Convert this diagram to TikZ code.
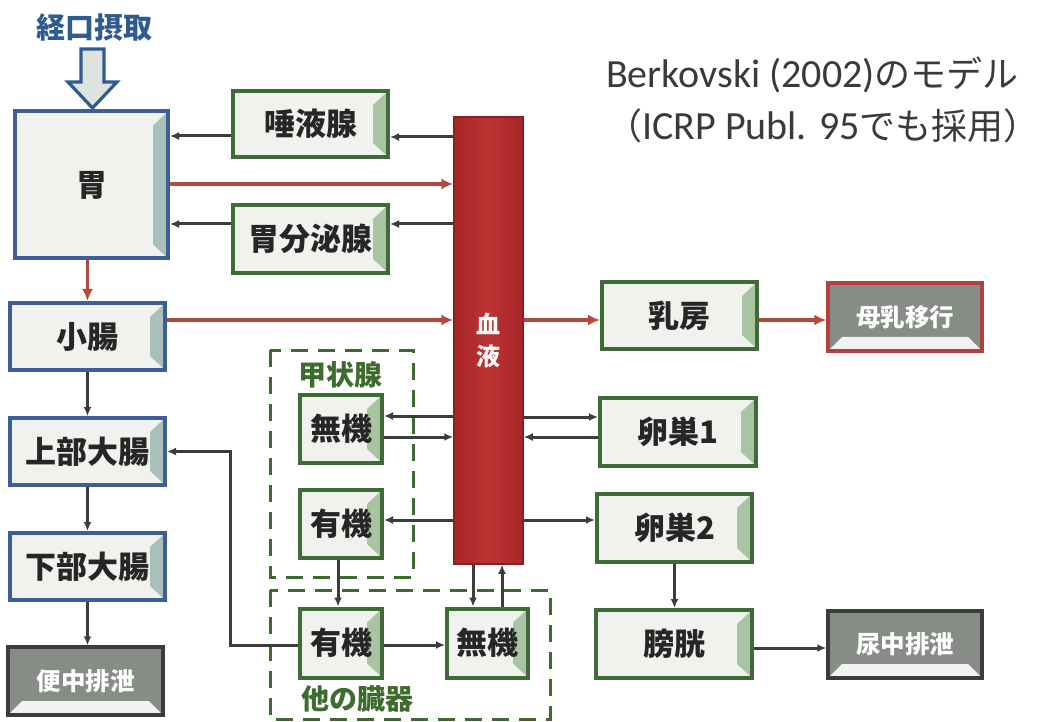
\documentclass[tikz,border=0pt]{standalone}
\usepackage{fontspec}
\newfontfamily\jp{Noto Sans CJK JP}
\newfontfamily\carl{Carlito}
\usetikzlibrary{arrows.meta,calc}
\definecolor{boxblue}{HTML}{3D5F96}
\definecolor{boxgreen}{HTML}{3E6B36}
\definecolor{boxfill}{HTML}{F0F2EE}
\definecolor{bevblue}{HTML}{A9BFBC}
\definecolor{bevgreen}{HTML}{A9C4A3}
\definecolor{arrgray}{HTML}{3C3C3C}
\definecolor{arrred}{HTML}{B5483C}
\definecolor{bloodL}{HTML}{A82528}
\definecolor{bloodM}{HTML}{BC3334}
\definecolor{bloodE}{HTML}{8E1D1F}
\definecolor{darkfill}{HTML}{878C87}
\definecolor{darkedge}{HTML}{3A3D3A}
\definecolor{milkedge}{HTML}{B3413B}
\definecolor{titlegray}{HTML}{3A3A3A}
\definecolor{labgreen}{HTML}{3E6B2E}
\definecolor{intakeblue}{HTML}{2F5B8E}
\definecolor{hollowfill}{HTML}{DDE4E0}
\newcommand\mybevel[1]{%
  \fill[#1] ([xshift=-2pt,yshift=-2pt]path picture bounding box.north east)
    -- ([xshift=-15pt,yshift=-14pt]path picture bounding box.north east)
    -- ([xshift=-15pt,yshift=14pt]path picture bounding box.south east)
    -- ([xshift=-2pt,yshift=2pt]path picture bounding box.south east) -- cycle;}
\newcommand\mybottombevel{%
  \fill[white!90!gray] ([xshift=2pt,yshift=2pt]path picture bounding box.south west)
    -- ([xshift=14pt,yshift=14pt]path picture bounding box.south west)
    -- ([xshift=-14pt,yshift=14pt]path picture bounding box.south east)
    -- ([xshift=-2pt,yshift=2pt]path picture bounding box.south east) -- cycle;}
\begin{document}
\begin{tikzpicture}[x=1pt,y=-1pt,
  arr/.style={draw=arrgray,line width=3pt,-{Latex[length=9pt,width=8pt]}},
  rarr/.style={draw=arrred,line width=3.8pt,-{Latex[length=12pt,width=11pt]}},
  box/.style={rectangle,inner sep=0pt,line width=4pt,fill=boxfill,
    font=\jp\bfseries\fontsize{31}{36}\selectfont,text=black!85},
  bluebox/.style={box,draw=boxblue,path picture={\mybevel{bevblue}}},
  greenbox/.style={box,draw=boxgreen,path picture={\mybevel{bevgreen}}},
  darkbox/.style={rectangle,inner sep=0pt,line width=3.5pt,draw=darkedge,fill=darkfill,
    text=white,font=\jp\bfseries\fontsize{24.5}{28}\selectfont,path picture={\mybottombevel}},
  dashbox/.style={draw=labgreen,line width=3pt,dash pattern=on 17pt off 10pt},
  grouplabel/.style={text=labgreen,font=\jp\bfseries\fontsize{28}{32}\selectfont}
]
\useasboundingbox (0,0) rectangle (1037,722);
\fill[white] (0,0) rectangle (1037,722);
\clip (0,0) rectangle (1037,722);

% title
\node[anchor=base west,text=titlegray,inner sep=0pt] (title1) at (606,88)
  {\fontsize{40}{44}\selectfont\carl Berkovski (2002)\jp\fontsize{36}{40}\selectfont のモデル};
\node[anchor=base west,text=titlegray,inner sep=0pt] (title2) at (606,140)
  {\fontsize{36}{40}\selectfont\jp （\carl\fontsize{40}{44}\selectfont ICRP Publ. 95\jp\fontsize{36}{40}\selectfont でも採用）};

% intake
\node[text=intakeblue,font=\jp\bfseries\fontsize{29}{32}\selectfont] (intake) at (94,28) {経口摂取};
\draw[draw=intakeblue,line width=3.2pt,fill=hollowfill,line join=miter]
  (81,49) -- (104,49) -- (104,82) -- (117,82) -- (92.5,108) -- (68,82) -- (81,82) -- cycle;

% dashed groups
\draw[dashbox] (270,350) rectangle (413,577);
\draw[dashbox] (270,590) rectangle (550,719);
\node[grouplabel] (thyrlab) at (340,375) {甲状腺};
\node[grouplabel] (otherlab) at (357,699) {他の臓器};

% blood
\node[rectangle,inner sep=0pt,minimum width=69pt,minimum height=447pt,
  draw=bloodE,line width=1.5pt,left color=bloodL,right color=bloodL,middle color=bloodM,
  text=white,align=center,font=\jp\bfseries\fontsize{24}{32}\selectfont] (blood) at (488.5,340.5) {血\\液};

% GI boxes
\node[bluebox,minimum width=153pt,minimum height=147pt] (stomach) at (91.5,185) {胃};
\node[bluebox,minimum width=155pt,minimum height=67pt] (si) at (87.5,336.5) {小腸};
\node[bluebox,minimum width=155pt,minimum height=67pt] (ul) at (87.5,451.5) {上部大腸};
\node[bluebox,minimum width=155pt,minimum height=67pt] (ll) at (87.5,566.5) {下部大腸};
\node[darkbox,minimum width=155pt,minimum height=68pt] (feces) at (85.5,681) {便中排泄};

% glands
\node[greenbox,minimum width=155pt,minimum height=66pt] (sal) at (310.5,124) {唾液腺};
\node[greenbox,minimum width=155pt,minimum height=68pt] (gsec) at (310.5,239) {胃分泌腺};

% thyroid / other organs
\node[greenbox,minimum width=82pt,minimum height=68pt] (tin) at (341,429) {無機};
\node[greenbox,minimum width=82pt,minimum height=68pt] (tor) at (341,524) {有機};
\node[greenbox,minimum width=82pt,minimum height=69pt] (oor) at (341,643) {有機};
\node[greenbox,minimum width=81pt,minimum height=69pt] (oin) at (487.5,643) {無機};

% right side
\node[greenbox,minimum width=155pt,minimum height=67pt] (breast) at (679.5,315.5) {乳房};
\node[darkbox,draw=milkedge,minimum width=154pt,minimum height=68pt] (milk) at (905,317) {母乳移行};
\node[greenbox,minimum width=156pt,minimum height=68pt] (ov1) at (678,432) {卵巣1};
\node[greenbox,minimum width=155pt,minimum height=68pt] (ov2) at (674.5,528) {卵巣2};
\node[greenbox,minimum width=156pt,minimum height=68pt] (bladder) at (674,644) {膀胱};
\node[darkbox,minimum width=154pt,minimum height=67pt] (urine) at (905,644.5) {尿中排泄};

% connectors: upper GI
\draw[arr] (sal.west |- 0,136) -- (stomach.east |- 0,136);
\draw[arr] (blood.west |- 0,137) -- (sal.east |- 0,137);
\draw[rarr] (stomach.east |- 0,184) -- (blood.west |- 0,184);
\draw[arr] (blood.west |- 0,224) -- (gsec.east |- 0,224);
\draw[arr] (gsec.west |- 0,224) -- (stomach.east |- 0,224);
\draw[rarr] (stomach.south -| si.north) -- (si.north);
\draw[rarr] (si.east |- 0,320) -- (blood.west |- 0,320);
\draw[rarr] (blood.east |- 0,320) -- (breast.west |- 0,320);
\draw[rarr] (breast.east |- 0,320) -- (milk.west |- 0,320);

% lower GI
\draw[arr] (si.south) -- (ul.north);
\draw[arr] (ul.south) -- (ll.north);
\draw[arr] (ll.south) -- (feces.north -| ll.south);
\coordinate (bend) at (230,645);
\draw[arr] (oor.west |- bend) -- (bend) |- (ul.east);

% thyroid
\draw[arr] (blood.west |- 0,416) -- (tin.east |- 0,416);
\draw[arr] (tin.east |- 0,437) -- (blood.west |- 0,437);
\draw[arr] (blood.west |- 0,520) -- (tor.east |- 0,520);
\draw[arr] (tor.south -| 338,0) -- (oor.north -| 338,0);
\draw[arr] (oor.east |- 0,645) -- (oin.west |- 0,645);
\draw[arr] (blood.south -| 473,0) -- (oin.north -| 473,0);
\draw[arr] (oin.north -| 502,0) -- (blood.south -| 502,0);

% ovaries, bladder
\draw[arr] (blood.east |- 0,417) -- (ov1.west |- 0,417);
\draw[arr] (ov1.west |- 0,437) -- (blood.east |- 0,437);
\draw[arr] (blood.east |- 0,520) -- (ov2.west |- 0,520);
\draw[arr] (ov2.south) -- (bladder.north -| ov2.south);
\draw[arr] (bladder.east |- 0,648) -- (urine.west |- 0,648);
\end{tikzpicture}
\end{document}
